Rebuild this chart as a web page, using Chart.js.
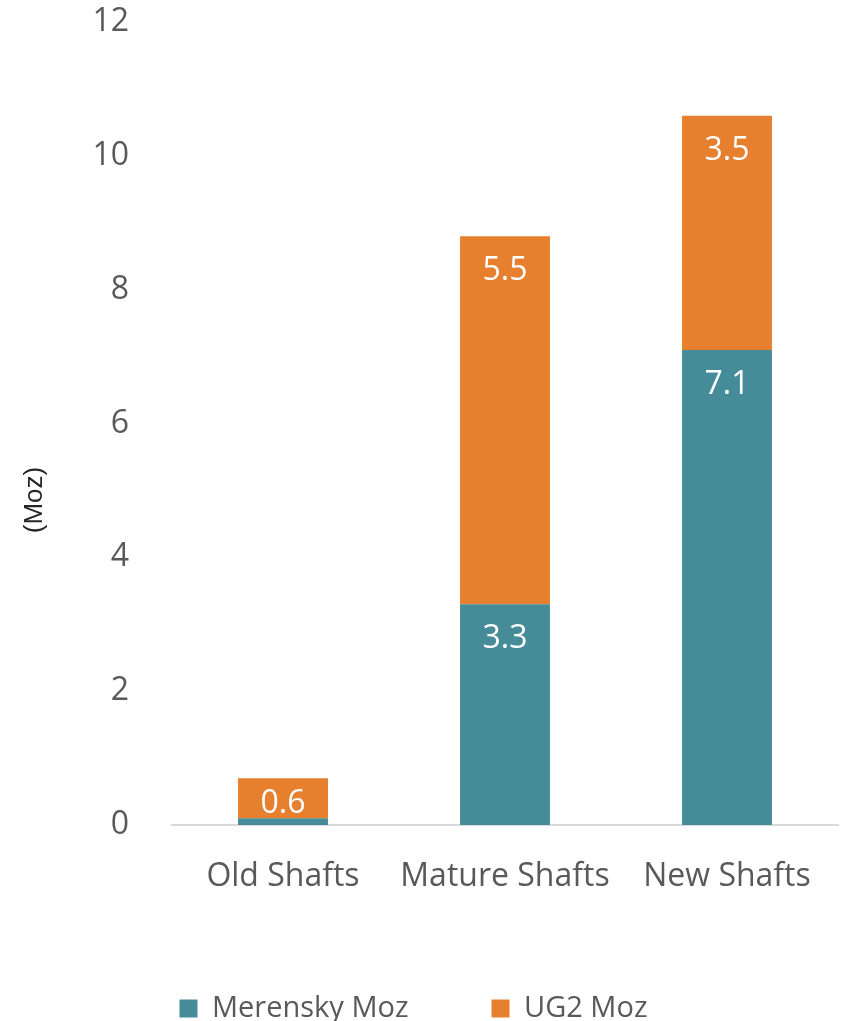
<!DOCTYPE html>
<html>
<head>
<meta charset="utf-8">
<script src="https://cdn.jsdelivr.net/npm/chart.js@4.4.0/dist/chart.umd.min.js"></script>
<style>
    body { margin: 0; background: #fff; }
    #wrap { width: 842px; height: 1021px; }
</style>
</head>
<body>
<div id="wrap"><canvas id="myChart" width="842" height="1021"></canvas></div>
<script>
var categories = ["Old Shafts", "Mature Shafts", "New Shafts"];
var merensky = [0.1, 3.3, 7.1];
var ug2 = [0.6, 5.5, 3.5];
var seriesNames = ["Merensky Moz", "UG2 Moz"];
var yTicks = [0, 2, 4, 6, 8, 10, 12];
var yTitle = "(Moz)";

var font = "'Open Sans', sans-serif";
var grey = "#595959";

// white value labels near the top of each segment, plus the y title
var extras = {
    id: "extras",
    afterDatasetsDraw: function (chart) {
        var ctx = chart.ctx;
        ctx.save();
        ctx.font = "32px " + font;
        ctx.fillStyle = "#ffffff";
        ctx.textAlign = "center";
        ctx.textBaseline = "middle";
        chart.data.datasets.forEach(function (ds, i) {
            chart.getDatasetMeta(i).data.forEach(function (bar, j) {
                var v = ds.data[j];
                if (v < 0.3) return;
                var h = bar.base - bar.y;
                ctx.fillText(v.toFixed(1), bar.x, bar.y + Math.min(35, h / 2 + 6));
            });
        });
        ctx.restore();

        ctx.save();
        ctx.font = "26px 'Liberation Sans', Arial, sans-serif";
        ctx.fillStyle = "#262626";
        ctx.textAlign = "center";
        ctx.textBaseline = "middle";
        ctx.translate(35, 500);
        ctx.rotate(-Math.PI / 2);
        ctx.fillText(yTitle, 0, 0);
        ctx.restore();
    }
};

new Chart("myChart", {
    type: "bar",
    data: {
        labels: categories,
        datasets: [{
            label: seriesNames[0],
            data: merensky,
            backgroundColor: "#468C98"
        },
        {
            label: seriesNames[1],
            data: ug2,
            backgroundColor: "#E67F2E"
        }]
    },
    options: {
        responsive: false,
        animation: false,
        categoryPercentage: 1,
        barPercentage: 0.405,
        layout: { padding: { top: 22, left: -11, right: 4, bottom: -12 } },
        scales: {
            x: {
                stacked: true,
                grid: { display: false },
                border: { display: true, color: "#d9d9d9", width: 2 },
                ticks: { color: grey, font: { family: font, size: 32 }, padding: 25 },
                afterFit: function (s) { s.height = 86; }
            },
            y: {
                stacked: true,
                min: 0,
                max: 12,
                grid: { display: false },
                border: { display: false },
                afterBuildTicks: function (s) { s.ticks = yTicks.map(function (v) { return { value: v }; }); },
                ticks: { color: grey, font: { family: font, size: 32 }, padding: 35 },
                afterFit: function (s) {
                    s.width = 183;
                    s.paddingTop = 0;
                    s.paddingBottom = 0;
                }
            }
        },
        plugins: {
            legend: {
                position: "bottom",
                labels: {
                    color: grey,
                    font: { family: font, size: 29 },
                    boxWidth: 18,
                    boxHeight: 18,
                    padding: 83
                }
            },
            tooltip: { enabled: false }
        }
    },
    plugins: [extras]
});
</script>
</body>
</html>
